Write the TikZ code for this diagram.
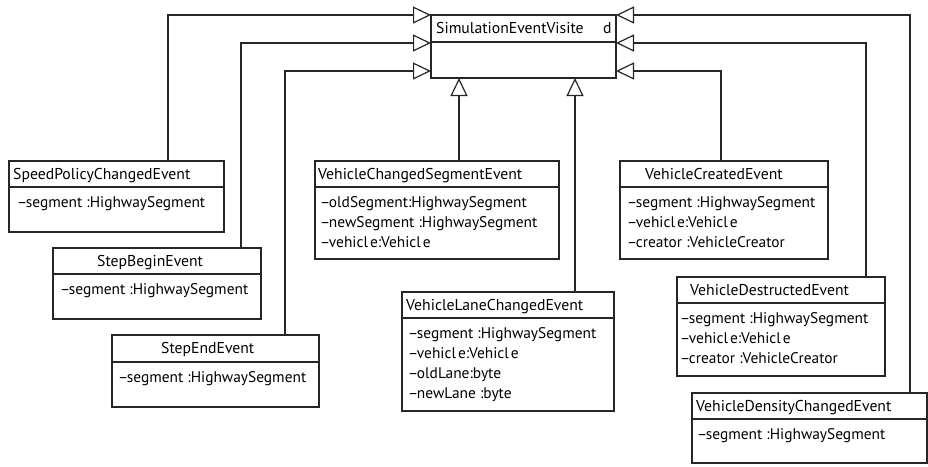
\documentclass[tikz,border=0pt]{standalone}
\usepackage{fontspec}
\setmainfont{PT Sans}
\usetikzlibrary{arrows.meta}

\tikzset{
  umlbox/.style={draw=black!85, line width=1.2pt, rectangle, inner sep=0pt, outer sep=0pt},
  divider/.style={draw=black!85, line width=1.2pt},
  ttl/.style={anchor=base west, inner sep=0pt, font=\fontsize{15.7}{18}\selectfont},
  attr/.style={anchor=base west, inner sep=0pt, font=\fontsize{15.4}{18}\selectfont},
  inh/.style={draw=black!85, line width=1.2pt, -{Triangle[open, length=18pt, width=17pt]}},
}

% class box: name, left, top, right, bottom, header height
\newcommand\umlclass[6]{%
  \node[umlbox, anchor=north west, minimum width={(#4-#2)*1pt}, minimum height={(#5-#3)*1pt}] (#1) at (#2,#3) {};
  \draw[divider] ([yshift=-#6pt]#1.north west) -- ([yshift=-#6pt]#1.north east);
}
\newcommand\mn{\textendash\kern-1.4pt}

\begin{document}
\begin{tikzpicture}[x=1pt, y=-1pt]
\useasboundingbox (0,0) rectangle (928,466);

% visitor interface
\umlclass{main}{431}{15}{616}{78}{27}
\node[ttl] (mainname) at (436,33) {SimulationEventVisite};
\node[ttl] (mainname2) at (603,33) {d};

% event classes
\umlclass{spd}{9}{161}{224}{232}{26}
\node[ttl] (spdT) at (13,179) {SpeedPolicyChangedEvent};
\node[attr] (spdA) at (17,207) {\mn segment :HighwaySegment};

\umlclass{sbeg}{53}{248}{261}{319}{26}
\node[ttl] (sbegT) at (97,266) {StepBeginEvent};
\node[attr] (sbegA) at (60,294) {\mn segment :HighwaySegment};

\umlclass{send}{112}{335}{319}{407}{27}
\node[ttl] (sendT) at (161,353) {StepEndEvent};
\node[attr] (sendA) at (118,382) {\mn segment :HighwaySegment};

\umlclass{vcs}{315}{161}{559}{259}{26}
\node[ttl] (vcsT) at (318,179) {VehicleChangedSegmentEvent};
\node[attr] (vcsA1) at (320,207) {\mn oldSegment:HighwaySegment};
\node[attr] (vcsA2) at (320,227) {\mn newSegment :HighwaySegment};
\node[attr] (vcsA3) at (320,247) {\mn vehicl\kern2pt e:Vehicl\kern2pt e};

\umlclass{vlc}{402}{292}{614}{411}{26}
\node[ttl] (vlcT) at (406,310) {VehicleLaneChangedEvent};
\node[attr] (vlcA1) at (408,338) {\mn segment :HighwaySegment};
\node[attr] (vlcA2) at (408,358) {\mn vehicl\kern2pt e:Vehicl\kern2pt e};
\node[attr] (vlcA3) at (408,378) {\mn oldLane:byte};
\node[attr] (vlcA4) at (408,398) {\mn newLane :byte};

\umlclass{vcr}{620}{161}{828}{259}{26}
\node[ttl] (vcrT) at (645,179) {VehicleCreatedEvent};
\node[attr] (vcrA1) at (627,207) {\mn segment :HighwaySegment};
\node[attr] (vcrA2) at (627,227) {\mn vehicl\kern2pt e:Vehicl\kern2pt e};
\node[attr] (vcrA3) at (627,247) {\mn creator :VehicleCreator};

\umlclass{vdes}{677}{277}{885}{376}{26}
\node[ttl] (vdesT) at (690,295) {VehicleDestructedEvent};
\node[attr] (vdesA1) at (680,323) {\mn segment :HighwaySegment};
\node[attr] (vdesA2) at (680,343) {\mn vehicl\kern2pt e:Vehicl\kern2pt e};
\node[attr] (vdesA3) at (680,363) {\mn creator :VehicleCreator};

\umlclass{vden}{692}{393}{927}{463}{26}
\node[ttl] (vdenT) at (696,411) {VehicleDensityChangedEvent};
\node[attr] (vdenA) at (697,439) {\mn segment :HighwaySegment};

% generalisations, left side
\draw[inh] ([xshift=51.5pt]spd.north) |- (main.north west);
\draw[inh] ([xshift=84pt]sbeg.north) |- ([yshift=-28pt]main.north west);
\draw[inh] ([xshift=69.5pt]send.north) |- ([yshift=-56pt]main.north west);

% generalisations, right side
\draw[inh] ([xshift=100.5pt]vden.north) |- (main.north east);
\draw[inh] ([xshift=85pt]vdes.north) |- ([yshift=-28pt]main.north east);
\draw[inh] ([xshift=-3pt]vcr.north) |- ([yshift=-56pt]main.north east);

% generalisations, from below
\coordinate (vcsTop) at ([xshift=22pt]vcs.north);
\coordinate (vlcTop) at ([xshift=67pt]vlc.north);
\draw[inh] (vcsTop) -- (vcsTop |- main.south);
\draw[inh] (vlcTop) -- (vlcTop |- main.south);
\end{tikzpicture}
\end{document}
